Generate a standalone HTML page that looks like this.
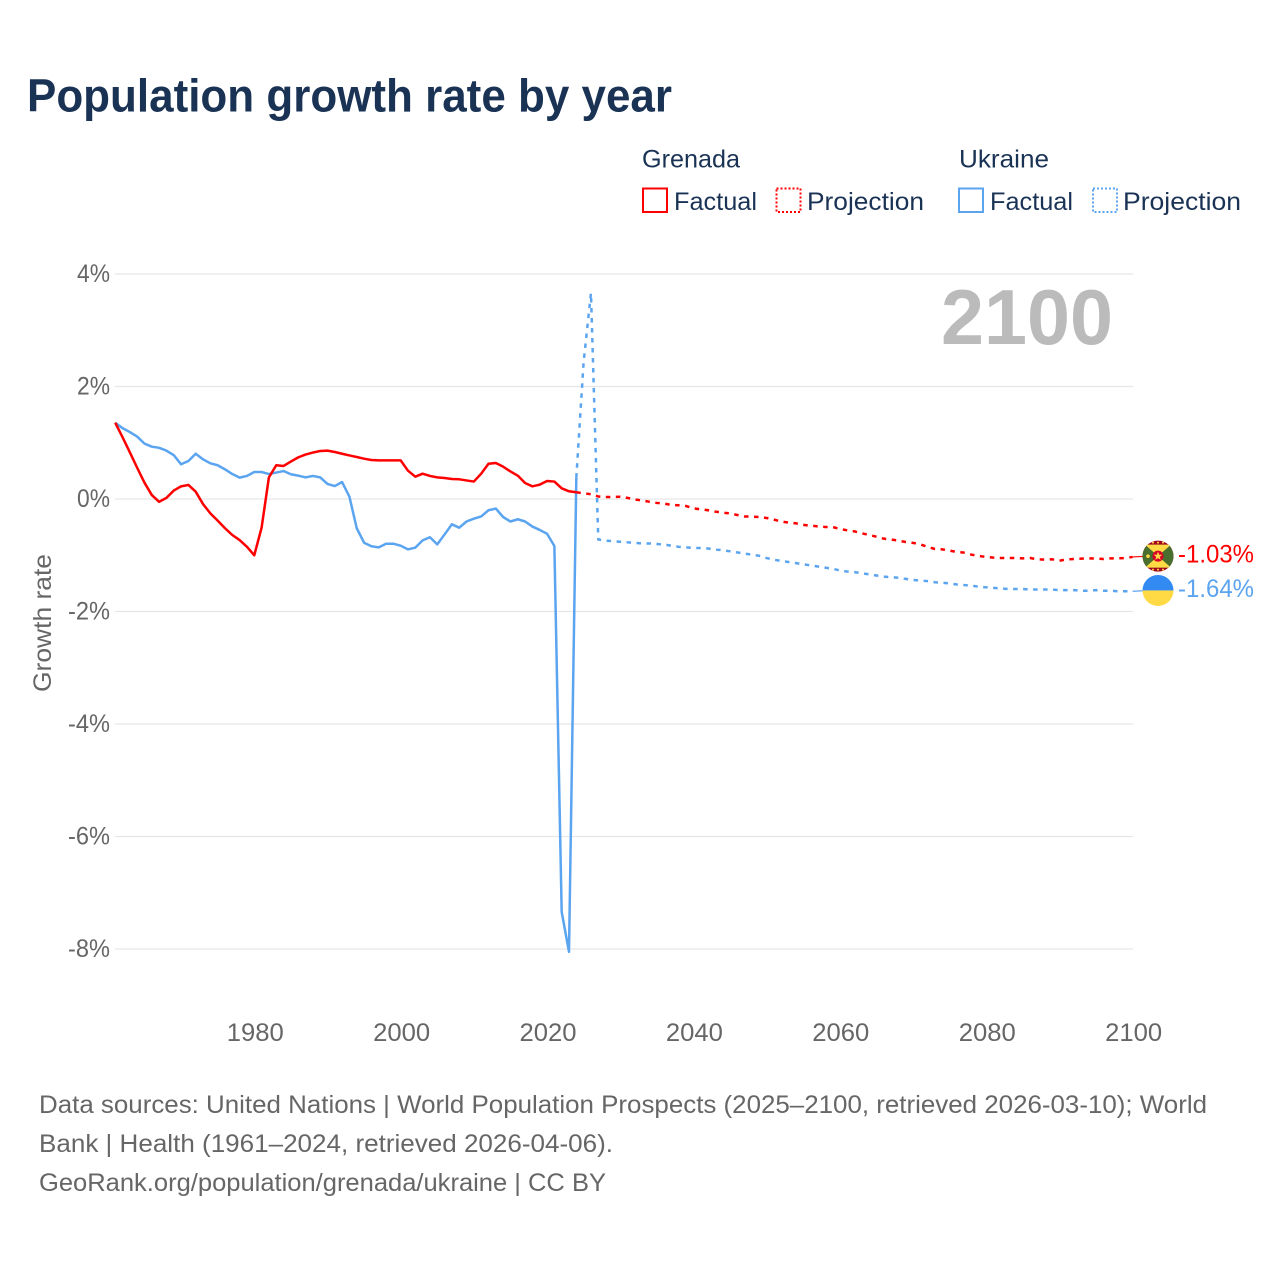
<!DOCTYPE html>
<html lang="en">
<head>
<meta charset="utf-8">
<title>Population growth rate by year</title>
<style>
html,body{margin:0;padding:0;background:#fff;}
svg{display:block;font-family:"Liberation Sans",sans-serif;}
.legend{font-size:25px;fill:#1a3355;}
.foot{font-size:25px;fill:#666;}
</style>
</head>
<body>
<svg id="chart" xmlns="http://www.w3.org/2000/svg" width="1280" height="1280" viewBox="0 0 1280 1280">
  <defs>
    <clipPath id="flag-clip"><circle cx="0" cy="0" r="15.5"/></clipPath>
  </defs>
  <rect width="1280" height="1280" fill="#fff"/>
  <text x="27" y="111.500" font-size="46" font-weight="700" fill="#1a3355" textLength="645" lengthAdjust="spacingAndGlyphs">Population growth rate by year</text>

  <g>
    <text class="legend" x="642" y="167.500" textLength="98" lengthAdjust="spacingAndGlyphs">Grenada</text>
    <rect x="643" y="188.500" width="24" height="23.500" fill="none" stroke="#ff0000" stroke-width="2"/>
    <text class="legend" x="674" y="210" textLength="83" lengthAdjust="spacingAndGlyphs">Factual</text>
    <rect x="776.500" y="188.500" width="24" height="23.500" fill="none" stroke="#ff0000" stroke-width="2" stroke-dasharray="2 2"/>
    <text class="legend" x="807" y="210" textLength="117" lengthAdjust="spacingAndGlyphs">Projection</text>
    <text class="legend" x="959" y="167.500" textLength="90" lengthAdjust="spacingAndGlyphs">Ukraine</text>
    <rect x="959" y="188.500" width="24" height="23.500" fill="none" stroke="#5ba4f0" stroke-width="2"/>
    <text class="legend" x="990" y="210" textLength="83" lengthAdjust="spacingAndGlyphs">Factual</text>
    <rect x="1093" y="188.500" width="24" height="23.500" fill="none" stroke="#5ba4f0" stroke-width="2" stroke-dasharray="2 2"/>
    <text class="legend" x="1123" y="210" textLength="118" lengthAdjust="spacingAndGlyphs">Projection</text>
  </g>

  <g id="grid"></g>
  <g id="y-ticks"></g>
  <g id="x-ticks"></g>
  <text transform="translate(51,623) rotate(-90)" text-anchor="middle" font-size="25" fill="#666" textLength="138" lengthAdjust="spacingAndGlyphs">Growth rate</text>
  <text x="941" y="344" font-size="78" font-weight="700" fill="#bbbbbb" textLength="172" lengthAdjust="spacingAndGlyphs">2100</text>

  <g id="series"></g>

  <g id="flag-grenada" clip-path="url(#flag-clip)">
    <rect x="-16" y="-16" width="32" height="32" fill="#a2001d"/>
    <rect x="-16" y="-11.500" width="32" height="23" fill="#496e2d"/>
    <polygon points="-13,-11.500 13,-11.500 0,0" fill="#ffda44"/>
    <polygon points="-13,11.500 13,11.500 0,0" fill="#ffda44"/>
    <circle cx="0" cy="0" r="5.500" fill="#d80027"/>
    <polygon points="0,-4.500 1.200,-1.400 4.300,-1.400 1.800,0.700 2.700,3.700 0,2 -2.700,3.700 -1.800,0.700 -4.300,-1.400 -1.200,-1.400" fill="#ffda44"/>
    <circle cx="-10" cy="0" r="1.800" fill="#ffda44"/>
    <circle cx="-5" cy="-13.500" r="1" fill="#ffda44"/>
    <circle cx="0" cy="-13.500" r="1" fill="#ffda44"/>
    <circle cx="5" cy="-13.500" r="1" fill="#ffda44"/>
    <circle cx="-5" cy="13.500" r="1" fill="#ffda44"/>
    <circle cx="0" cy="13.500" r="1" fill="#ffda44"/>
    <circle cx="5" cy="13.500" r="1" fill="#ffda44"/>
  </g>
  <g id="flag-ukraine" clip-path="url(#flag-clip)">
    <rect x="-16" y="-16" width="32" height="16" fill="#338af3"/>
    <rect x="-16" y="0" width="32" height="16" fill="#ffda44"/>
  </g>
  <text id="value-grenada" x="1178" font-size="25" fill="#ff0000" textLength="76" lengthAdjust="spacingAndGlyphs"></text>
  <text id="value-ukraine" x="1178" font-size="25" fill="#5ba4f0" textLength="76" lengthAdjust="spacingAndGlyphs"></text>

  <g>
    <text class="foot" x="39" y="1113" textLength="1168" lengthAdjust="spacingAndGlyphs">Data sources: United Nations | World Population Prospects (2025–2100, retrieved 2026-03-10); World</text>
    <text class="foot" x="39" y="1152" textLength="574" lengthAdjust="spacingAndGlyphs">Bank | Health (1961–2024, retrieved 2026-04-06).</text>
    <text class="foot" x="39" y="1191" textLength="567" lengthAdjust="spacingAndGlyphs">GeoRank.org/population/grenada/ukraine | CC BY</text>
  </g>
</svg>
<script>
const firstFactualYear = 1961;
const firstProjectionYear = 2024;
const xTickYears = [1980, 2000, 2020, 2040, 2060, 2080, 2100];
const yTickValues = [4, 2, 0, -2, -4, -6, -8];

const grenadaFactual = [
  1.356, 1.10, 0.83, 0.556, 0.29, 0.07, -0.05, 0.02, 0.15, 0.225,
  0.25, 0.13, -0.09, -0.255, -0.385, -0.52, -0.64, -0.73, -0.85, -1.0,
  -0.51, 0.385, 0.60, 0.587, 0.665, 0.74, 0.79, 0.825, 0.853, 0.86,
  0.835, 0.805, 0.775, 0.747, 0.717, 0.693, 0.687, 0.687, 0.687, 0.687,
  0.503, 0.397, 0.45, 0.41, 0.385, 0.373, 0.355, 0.35, 0.33, 0.31,
  0.45, 0.627, 0.64, 0.575, 0.49, 0.415, 0.285, 0.225, 0.255, 0.32,
  0.31, 0.19, 0.137, 0.12
];
const ukraineFactual = [
  1.356, 1.26, 1.19, 1.11, 0.985, 0.93, 0.91, 0.86, 0.78, 0.617,
  0.675, 0.805, 0.705, 0.634, 0.6, 0.527, 0.444, 0.38, 0.41, 0.48,
  0.48, 0.444, 0.47, 0.497, 0.44, 0.415, 0.385, 0.41, 0.385, 0.267,
  0.23, 0.302, 0.04, -0.52, -0.777, -0.84, -0.86, -0.795, -0.795, -0.83,
  -0.895, -0.865, -0.735, -0.68, -0.806, -0.63, -0.45, -0.51, -0.40, -0.35,
  -0.31, -0.2, -0.17, -0.32, -0.40, -0.36, -0.4, -0.49, -0.55, -0.617,
  -0.836, -7.34, -8.05, 0.38
];
const grenadaProjection = [
  0.12, 0.10, 0.085, 0.045, 0.035, 0.035, 0.04, 0.02, -0.01, -0.025,
  -0.05, -0.07, -0.08, -0.107, -0.112, -0.125, -0.166, -0.183, -0.2, -0.225,
  -0.243, -0.255, -0.285, -0.31, -0.314, -0.32, -0.338, -0.367, -0.40, -0.42,
  -0.432, -0.46, -0.474, -0.486, -0.497, -0.497, -0.533, -0.557, -0.575, -0.61,
  -0.64, -0.67, -0.705, -0.72, -0.74, -0.765, -0.78, -0.806, -0.853, -0.889,
  -0.895, -0.918, -0.942, -0.954, -0.99, -1.013, -1.03, -1.043, -1.049, -1.049,
  -1.049, -1.055, -1.049, -1.072, -1.078, -1.072, -1.097, -1.072, -1.067, -1.06,
  -1.055, -1.06, -1.067, -1.055, -1.055, -1.05, -1.03
];
const ukraineProjection = [
  0.38, 2.44, 3.66, -0.72, -0.74, -0.75, -0.76, -0.77, -0.78, -0.79,
  -0.79, -0.80, -0.81, -0.83, -0.85, -0.86, -0.87, -0.87, -0.88, -0.90,
  -0.91, -0.93, -0.95, -0.97, -0.99, -1.01, -1.05, -1.08, -1.10, -1.12,
  -1.14, -1.16, -1.18, -1.20, -1.22, -1.24, -1.27, -1.29, -1.30, -1.32,
  -1.34, -1.36, -1.38, -1.39, -1.40, -1.42, -1.44, -1.45, -1.46, -1.48,
  -1.49, -1.50, -1.52, -1.53, -1.54, -1.56, -1.57, -1.58, -1.59, -1.60,
  -1.60, -1.60, -1.61, -1.61, -1.61, -1.61, -1.62, -1.62, -1.62, -1.63,
  -1.63, -1.62, -1.63, -1.63, -1.64, -1.64, -1.64
];

const NS = 'http://www.w3.org/2000/svg';
function xScale(year) { return 115.2 + (year - 1961) * (1132.6 - 115.2) / 139; }
function yScale(value) { return 499 - value * 56.25; }
function linePath(values, startYear) {
  return values.map(function (v, i) {
    return (i ? 'L' : 'M') + xScale(startYear + i).toFixed(2) + ' ' + yScale(v).toFixed(2);
  }).join('');
}
function make(tag, parentId) {
  const el = document.createElementNS(NS, tag);
  document.getElementById(parentId).appendChild(el);
  return el;
}

yTickValues.forEach(function (v) {
  const line = make('line', 'grid');
  
  
  line.setAttribute('x1', 115);
  line.setAttribute('x2', 1133);
  line.setAttribute('y1', yScale(v));
  line.setAttribute('y2', yScale(v));
  line.setAttribute('stroke', '#e6e6e6');
  line.setAttribute('stroke-width', '1.2');

  const label = make('text', 'y-ticks');
  
  
  label.setAttribute('x', 110);
  label.setAttribute('y', yScale(v) + 8);
  label.setAttribute('text-anchor', 'end');
  label.setAttribute('font-size', '25');
  label.setAttribute('fill', '#666');
  const text = v + '%';
  label.setAttribute('textLength', text.length === 2 ? 33 : 42);
  label.setAttribute('lengthAdjust', 'spacingAndGlyphs');
  label.textContent = text;
});

xTickYears.forEach(function (year) {
  const label = make('text', 'x-ticks');
  
  
  label.setAttribute('x', xScale(year) + 1);
  label.setAttribute('y', 1041);
  label.setAttribute('text-anchor', 'middle');
  label.setAttribute('font-size', '25');
  label.setAttribute('fill', '#666');
  label.setAttribute('textLength', 57);
  label.setAttribute('lengthAdjust', 'spacingAndGlyphs');
  label.textContent = String(year);
});

function drawLine(values, startYear, color, dashed, name) {
  const path = make('path', 'series');
  
  
  path.setAttribute('d', linePath(values, startYear));
  path.setAttribute('fill', 'none');
  path.setAttribute('stroke', color);
  path.setAttribute('stroke-width', '2.5');
  path.setAttribute('stroke-linejoin', 'round');
  if (dashed) path.setAttribute('stroke-dasharray', '4.500 5.500');
}
drawLine(ukraineFactual, firstFactualYear, '#5ba4f0', false, 'ukraine-factual-line');
drawLine(ukraineProjection, firstProjectionYear, '#5ba4f0', true, 'ukraine-projection-line');
drawLine(grenadaFactual, firstFactualYear, '#ff0000', false, 'grenada-factual-line');
drawLine(grenadaProjection, firstProjectionYear, '#ff0000', true, 'grenada-projection-line');

function endMarker(values, color, flagId, valueId, connectorName) {
  const last = values[values.length - 1];
  const y = yScale(last);
  const connector = make('line', 'series');
  
  
  connector.setAttribute('x1', xScale(2100));
  connector.setAttribute('x2', 1143);
  connector.setAttribute('y1', y);
  connector.setAttribute('y2', y - 0.5);
  connector.setAttribute('stroke', color);
  connector.setAttribute('stroke-width', '1.200');
  document.getElementById(flagId).setAttribute('transform', 'translate(1158,' + (y - 0.8).toFixed(2) + ')');
  const valueText = document.getElementById(valueId);
  valueText.setAttribute('y', (y + 5.5).toFixed(2));
  valueText.textContent = last.toFixed(2) + '%';
}
endMarker(grenadaProjection, '#ff0000', 'flag-grenada', 'value-grenada', 'grenada-end-connector');
endMarker(ukraineProjection, '#5ba4f0', 'flag-ukraine', 'value-ukraine', 'ukraine-end-connector');
</script>
</body>
</html>
